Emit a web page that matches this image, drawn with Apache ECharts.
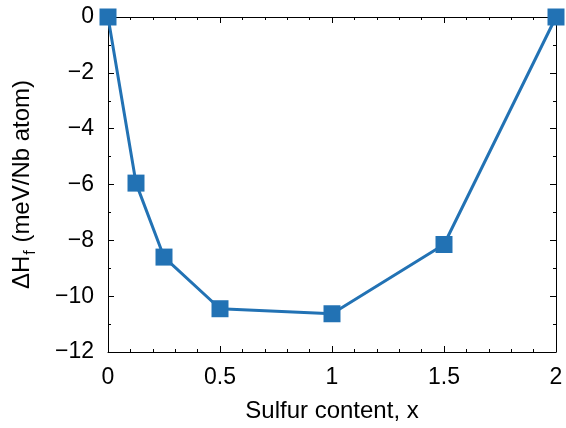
<!DOCTYPE html>
<html>
<head>
<meta charset="utf-8">
<script src="https://cdn.jsdelivr.net/npm/echarts@6/dist/echarts.min.js"></script>
<style>
  html, body { margin: 0; padding: 0; background: #fff; }
  #chart { width: 566px; height: 428px; }
</style>
</head>
<body>
<div id="chart"></div>
<script>
var sulfur = [0, 0.125, 0.25, 0.5, 1, 1.5, 2];
var enthalpy = [0, -5.95, -8.6, -10.45, -10.63, -8.15, 0];

var blue = '#2272b4';
var font = 'Liberation Sans, Arial, sans-serif';

function minus(v) {
  return String(v).replace('-', '\u2212');
}

var chart = echarts.init(document.getElementById('chart'), null, { renderer: 'canvas' });

var frameAxis = {
  axisLine: { onZero: false, lineStyle: { color: '#000', width: 1 } },
  axisTick: { inside: true, length: 6, lineStyle: { color: '#000' } },
  minorTick: { show: true, splitNumber: 5, length: 3, lineStyle: { color: '#000' } },
  splitLine: { show: false }
};
var yMinor = { minorTick: { show: true, splitNumber: 2, length: 3, lineStyle: { color: '#000' } } };

chart.setOption({
  animation: false,
  grid: { left: 108, right: 10, top: 17, bottom: 74 },
  xAxis: [
    Object.assign({
      type: 'value', min: 0, max: 2, interval: 0.5, position: 'bottom',
      name: 'Sulfur content, x', nameLocation: 'middle', nameGap: 47,
      nameTextStyle: { color: '#000', fontSize: 24, fontFamily: font },
      axisLabel: { color: '#000', fontSize: 23, fontFamily: font, margin: 14 }
    }, frameAxis),
    Object.assign({
      type: 'value', min: 0, max: 2, interval: 0.5, position: 'top',
      axisLabel: { show: false }
    }, frameAxis)
  ],
  yAxis: [
    Object.assign({
      type: 'value', min: -12, max: 0, interval: 2, position: 'left',
      name: '{d|ΔH}{s|f}{d| (meV/Nb atom)}', nameLocation: 'middle', nameGap: 70,
      nameTextStyle: {
        color: '#000', fontFamily: font,
        rich: {
          d: { fontSize: 24, fontFamily: font, color: '#000', verticalAlign: 'top', lineHeight: 28 },
          s: { fontSize: 16, fontFamily: font, color: '#000', verticalAlign: 'top', lineHeight: 18, padding: [13, 1, 0, 1] }
        }
      },
      axisLabel: { color: '#000', fontSize: 23, fontFamily: font, margin: 14, formatter: minus }
    }, frameAxis, yMinor),
    Object.assign({
      type: 'value', min: -12, max: 0, interval: 2, position: 'right',
      axisLabel: { show: false }
    }, frameAxis, yMinor)
  ],
  series: [{
    type: 'line',
    data: sulfur.map(function (x, i) { return [x, enthalpy[i]]; }),
    symbol: 'rect',
    symbolSize: 17,
    clip: false,
    lineStyle: { color: blue, width: 3 },
    itemStyle: { color: blue },
    z: 5
  }]
});
</script>
</body>
</html>
